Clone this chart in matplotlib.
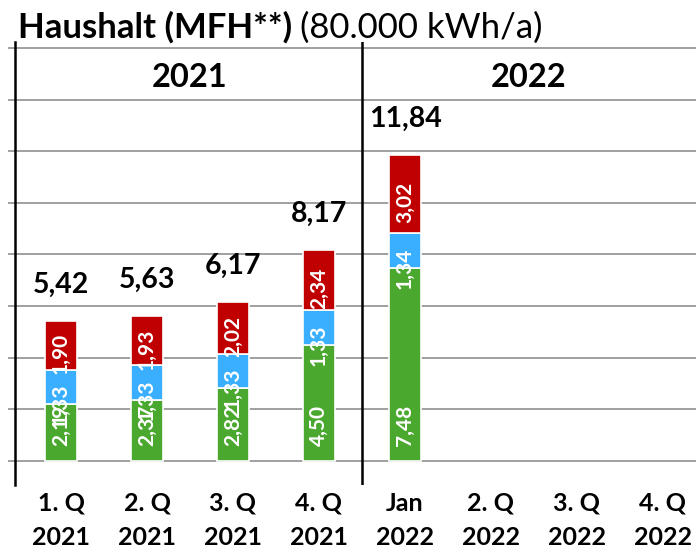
import numpy as np
import matplotlib
matplotlib.use("Agg")
import matplotlib.pyplot as plt

plt.rcParams['font.family'] = ['Lato', 'DejaVu Sans']

# data
categories = ['1. Q\n2021', '2. Q\n2021', '3. Q\n2021', '4. Q\n2021',
              'Jan\n2022', '2. Q\n2022', '3. Q\n2022', '4. Q\n2022']
green = [2.19, 2.37, 2.82, 4.50, 7.48]
blue = [1.33, 1.33, 1.33, 1.33, 1.34]
red = [1.90, 1.93, 2.02, 2.34, 3.02]
totals = [5.42, 5.63, 6.17, 8.17, 11.84]
years = ['2021', '2022']

def de(v):
    return f"{v:.2f}".replace('.', ',')

c_green = '#4BA82E'
c_blue = '#3AAFFF'
c_red = '#C00000'
c_grid = '#A0A0A0'

fig = plt.figure(figsize=(6.96, 5.54), dpi=100)
ax = fig.add_axes([15/696, 69/554, 681/696, 443/554])

x = np.arange(len(green))
w = 0.37
g_bot = np.zeros(len(green))
b_bot = np.array(green)
r_bot = b_bot + np.array(blue)
ax.bar(x, green, w, bottom=g_bot, color=c_green, edgecolor='white', linewidth=1.2, zorder=3)
ax.bar(x, blue, w, bottom=b_bot, color=c_blue, edgecolor='white', linewidth=1.2, zorder=3)
ax.bar(x, red, w, bottom=r_bot, color=c_red, edgecolor='white', linewidth=1.2, zorder=3)

lab = dict(rotation=90, color='white', fontweight='bold', fontsize=15,
           ha='center', textcoords='offset points', zorder=4)
for i in range(len(green)):
    ax.annotate(de(green[i]), (x[i], 0), xytext=(0, 11), va='bottom', **lab)
    ax.annotate(de(blue[i]), (x[i], b_bot[i]), xytext=(0, 0), va='center', **lab)
    ax.annotate(de(red[i]), (x[i], r_bot[i] + red[i] / 2), xytext=(0, -6), va='center', **lab)
    ax.annotate(de(totals[i]), (x[i], totals[i]), xytext=(0, 26), textcoords='offset points',
                ha='center', va='center', fontsize=20.5, fontweight='bold', color='black')

ax.set_xlim(-0.535, 7.384)
ax.set_ylim(-0.93, 16.23)

ax.set_yticks(np.arange(0, 17, 2))
ax.tick_params(axis='y', length=5, width=1.4, color=c_grid, labelleft=False)
ax.grid(axis='y', color=c_grid, linewidth=1.4, zorder=0)
ax.set_axisbelow(True)

ax.set_xticks(np.arange(len(categories)))
ax.set_xticklabels(categories, fontsize=18, fontweight='bold', linespacing=1.6)
ax.tick_params(axis='x', length=0, pad=5)

for s in ['top', 'right', 'bottom']:
    ax.spines[s].set_visible(False)
ax.spines['left'].set_linewidth(1.8)
ax.axvline(3.5, color='black', linewidth=1.8, zorder=2)

ax.text(1.5, 14.85, years[0], ha='center', va='center', fontsize=23.5, fontweight='bold')
ax.text((3.5 + 7.384) / 2, 14.85, years[1], ha='center', va='center', fontsize=23.5, fontweight='bold')

t1 = fig.text(18/696, 1 - 38/554, 'Haushalt (MFH**)', fontsize=25, fontweight='bold', va='baseline')
fig.canvas.draw()
bb = t1.get_window_extent()
fig.text((bb.x1 + 8) / 696, 1 - 38/554, '(80.000 kWh/a)', fontsize=25, va='baseline')

fig.savefig('out.png', dpi=100)
